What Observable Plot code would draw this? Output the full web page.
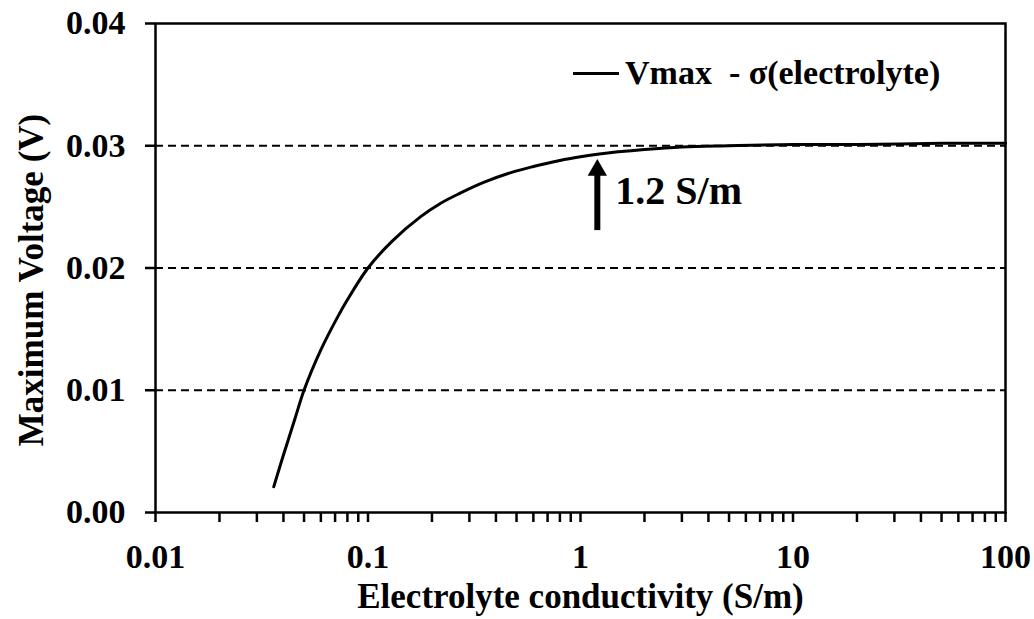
<!DOCTYPE html>
<html>
<head>
<meta charset="utf-8">
<script src="https://cdn.jsdelivr.net/npm/d3@7"></script>
<script src="https://cdn.jsdelivr.net/npm/@observablehq/plot@0.6"></script>
<style>
  html, body { margin: 0; padding: 0; background: #fff; }
  #wrap { position: relative; width: 1034px; height: 619px; font-family: "Liberation Serif", "Times New Roman", serif; font-weight: bold; }
  #legend { position: absolute; left: 573px; top: 56px; display: flex; align-items: center; font-size: 34px; line-height: 34px; color: #000; white-space: pre; }
  #legend .swatch { display: inline-block; width: 46px; height: 3px; background: #000; margin-right: 6px; }
</style>
</head>
<body>
<div id="wrap"><div id="legend"><span class="swatch"></span><span>Vmax  - σ(electrolyte)</span></div></div>
<script>
// Electrolyte conductivity (S/m) and the resulting maximum voltage (V)
const conductivity = [0.036, 0.04, 0.045, 0.05, 0.06, 0.072, 0.08, 0.1, 0.13, 0.177, 0.22, 0.27, 0.35, 0.47, 0.6, 0.8, 1.0, 1.2, 1.5, 2, 3, 5, 10, 20, 50, 100];
const vmax = [0.0021, 0.0047, 0.0075, 0.0100, 0.0133, 0.0160, 0.0174, 0.0200, 0.0222, 0.0242, 0.0253, 0.0261, 0.0270, 0.0278, 0.0283, 0.0288, 0.0291, 0.0293, 0.0295, 0.0297, 0.0299, 0.0300, 0.0301, 0.0301, 0.0302, 0.0302];

// Axis ticks
const xMajorTicks = [0.01, 0.1, 1, 10, 100];
const xMinorTicks = [2, 3, 4, 5, 6, 7, 8, 9].flatMap(m => [0.01, 0.1, 1, 10].map(d => m * d));
const yTicks = [0, 0.01, 0.02, 0.03, 0.04];
const gridLevels = [0.01, 0.02, 0.03];

// Annotation: threshold conductivity marked with an arrow
const thresholdLabel = "1.2 S/m";
const threshold = 1.2;
const arrowTail = 0.0231;
const arrowHead = 0.0280;

const data = conductivity.map((s, i) => ({s, v: vmax[i]}));

const chart = Plot.plot({
  width: 1034,
  height: 619,
  marginLeft: 155,
  marginRight: 29,
  marginTop: 23,
  marginBottom: 107,
  style: {fontFamily: "Liberation Serif, Times New Roman, serif", fontWeight: "bold", fontSize: "34px", color: "#000", background: "#fff"},
  x: {type: "log", domain: [0.01, 100]},
  y: {domain: [0, 0.04]},
  marks: [
    Plot.ruleY(gridLevels, {stroke: "#000", strokeWidth: 1.8, strokeDasharray: "8,5"}),
    Plot.axisX(xMinorTicks, {tickSize: 10, strokeWidth: 2.5, tickFormat: () => "", label: null}),
    Plot.axisX(xMajorTicks, {tickSize: 10, tickPadding: 21, strokeWidth: 2.5, tickFormat: d => String(d), label: null, fontSize: 34}),
    Plot.axisY(yTicks, {tickSize: 10, tickPadding: 20, strokeWidth: 2.5, tickFormat: d3.format(".2f"), label: null, fontSize: 34}),
    Plot.frame({stroke: "#000", strokeWidth: 2.5}),
    Plot.line(data, {x: "s", y: "v", stroke: "#000", strokeWidth: 3, curve: "catmull-rom"}),
    // arrow shaft and head
    Plot.link([threshold], {x1: d => d, x2: d => d, y1: arrowTail, y2: arrowHead, stroke: "#000", strokeWidth: 6}),
    Plot.dot([threshold], {x: d => d, y: arrowHead, symbol: "triangle", r: 7.2, fill: "#000", stroke: "none"}),
    Plot.text([thresholdLabel], {x: threshold, y: 0.0263, text: d => d, textAnchor: "start", dx: 18, fontSize: 40, fill: "#000"}),
    // axis titles
    Plot.text(["Electrolyte conductivity (S/m)"], {frameAnchor: "bottom", text: d => d, dy: 95, fontSize: 35, fill: "#000"}),
    Plot.text(["Maximum Voltage (V)"], {frameAnchor: "left", textAnchor: "middle", text: d => d, rotate: -90, dx: -124, dy: 12, fontSize: 35, fill: "#000"})
  ]
});

document.getElementById("wrap").prepend(chart);
</script>
</body>
</html>
